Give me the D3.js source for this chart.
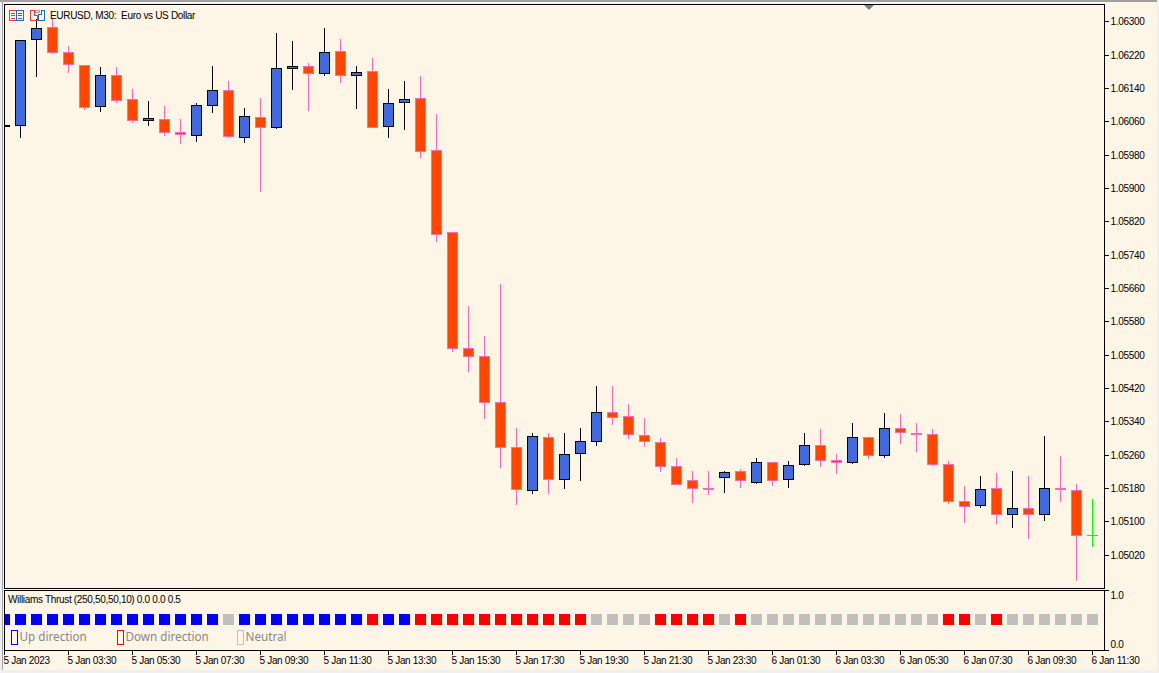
<!DOCTYPE html>
<html>
<head>
<meta charset="utf-8">
<title>EURUSD M30</title>
<script src="https://cdn.jsdelivr.net/npm/d3@7"></script>
<style>
html, body { margin: 0; padding: 0; background: #fdf5e6; overflow: hidden; }
svg { display: block; }
text { font-family: "Liberation Sans", sans-serif; font-size: 10px; letter-spacing: -0.32px; fill: #000; }
.legend { font-family: "Noto Sans", sans-serif; font-size: 11.7px; letter-spacing: 0; fill: #888; }
</style>
</head>
<body>
<svg id="chart" width="1159" height="673"></svg>
<script>
var opens = [1.06050,1.06053,1.06258,1.06287,1.06227,1.06195,1.06098,1.06171,1.06114,1.06065,1.06066,1.06035,1.06029,1.06101,1.06135,1.06024,1.06071,1.06048,1.06189,1.06193,1.06177,1.06229,1.06173,1.06181,1.06050,1.06108,1.06116,1.05991,1.05795,1.05516,1.05497,1.05387,1.05279,1.05177,1.05303,1.05203,1.05265,1.05294,1.05363,1.05353,1.05307,1.05291,1.05233,1.05199,1.05180,1.05208,1.05221,1.05196,1.05243,1.05203,1.05239,1.05283,1.05247,1.05244,1.05303,1.05261,1.05324,1.05312,1.05310,1.05238,1.05149,1.05141,1.05180,1.05119,1.05132,1.05119,1.05180,1.05175,1.05067];
var highs = [1.06052,1.06255,1.06305,1.06307,1.06240,1.06195,1.06191,1.06191,1.06137,1.06110,1.06098,1.06065,1.06104,1.06194,1.06156,1.06092,1.06117,1.06273,1.06252,1.06201,1.06285,1.06257,1.06194,1.06213,1.06137,1.06158,1.06168,1.06077,1.05795,1.05616,1.05544,1.05669,1.05325,1.05311,1.05313,1.05313,1.05325,1.05426,1.05424,1.05381,1.05349,1.05301,1.05251,1.05222,1.05220,1.05220,1.05225,1.05253,1.05243,1.05244,1.05311,1.05321,1.05261,1.05335,1.05303,1.05359,1.05357,1.05337,1.05321,1.05246,1.05184,1.05210,1.05217,1.05220,1.05210,1.05304,1.05258,1.05189,1.05153];
var lows = [1.06050,1.06023,1.06169,1.06224,1.06179,1.06090,1.06085,1.06107,1.06059,1.06051,1.06027,1.06008,1.06013,1.06083,1.06023,1.06011,1.05893,1.06045,1.06137,1.06087,1.06171,1.06155,1.06093,1.06047,1.06023,1.06042,1.05975,1.05774,1.05508,1.05460,1.05348,1.05231,1.05142,1.05168,1.05168,1.05180,1.05199,1.05283,1.05334,1.05300,1.05281,1.05221,1.05190,1.05147,1.05166,1.05171,1.05183,1.05192,1.05187,1.05183,1.05235,1.05233,1.05216,1.05240,1.05252,1.05255,1.05288,1.05269,1.05235,1.05144,1.05099,1.05135,1.05096,1.05087,1.05060,1.05103,1.05149,1.04959,1.05041];
var closes = [1.06052,1.06255,1.06284,1.06228,1.06199,1.06096,1.06171,1.06113,1.06065,1.06068,1.06036,1.06031,1.06099,1.06135,1.06026,1.06073,1.06048,1.06188,1.06193,1.06177,1.06227,1.06173,1.06179,1.06048,1.06104,1.06114,1.05990,1.05791,1.05517,1.05498,1.05388,1.05279,1.05179,1.05305,1.05203,1.05262,1.05293,1.05363,1.05352,1.05311,1.05294,1.05234,1.05191,1.05181,1.05179,1.05219,1.05201,1.05243,1.05201,1.05235,1.05283,1.05249,1.05244,1.05303,1.05261,1.05324,1.05316,1.05311,1.05239,1.05150,1.05138,1.05178,1.05119,1.05132,1.05119,1.05180,1.05179,1.05069,1.05067];
// 1 up, -1 down, 0 neutral
var thrustDirection = [1,1,1,1,1,1,1,1,1,1,1,1,1,1,0,1,1,1,1,1,1,1,1,-1,1,1,-1,-1,-1,-1,-1,-1,-1,-1,-1,-1,-1,0,0,0,0,-1,-1,-1,-1,0,-1,0,0,0,0,0,0,0,0,0,0,0,0,-1,-1,0,-1,0,0,0,0,0,0];
var priceTicks = [1.06300,1.06220,1.06140,1.06060,1.05980,1.05900,1.05820,1.05740,1.05660,1.05580,1.05500,1.05420,1.05340,1.05260,1.05180,1.05100,1.05020];
var timeLabels = ["5 Jan 2023","5 Jan 03:30","5 Jan 05:30","5 Jan 07:30","5 Jan 09:30","5 Jan 11:30","5 Jan 13:30","5 Jan 15:30","5 Jan 17:30","5 Jan 19:30","5 Jan 21:30","5 Jan 23:30","6 Jan 01:30","6 Jan 03:30","6 Jan 05:30","6 Jan 07:30","6 Jan 09:30","6 Jan 11:30"];
var timeTickBars = [0,4,8,12,16,20,24,28,32,36,40,44,48,52,56,60,64,68];
var legendNames = ["Up direction","Down direction","Neutral"];

var svg = d3.select("#chart");
var frameLeft = 4.5, frameRight = 1104.5;

var x = d3.scaleLinear().domain([0, 68]).range([4.5, 1092.5]);
var y = d3.scaleLinear().domain([1.063, 1.0502]).range([21.9, 555.23]);
var ySub = d3.scaleLinear().domain([0, 1]).range([649.5, 589.5]);

// window edges
svg.append("rect").attr("width", 1159).attr("height", 2).attr("fill", "#a0a0a0");
svg.append("rect").attr("y", 2).attr("width", 2).attr("height", 668).attr("fill", "#f0f0f0");
svg.append("rect").attr("x", 2).attr("y", 2).attr("width", 1).attr("height", 668).attr("fill", "#a0a0a0");
svg.append("rect").attr("y", 670).attr("width", 1159).attr("height", 3).attr("fill", "#f0f0f0");
svg.append("rect").attr("x", 1157).attr("width", 2).attr("height", 673).attr("fill", "#f0f0f0");

var defs = svg.append("defs");
defs.append("clipPath").attr("id", "mainClip").append("rect")
	.attr("x", 5).attr("y", 5).attr("width", 1099).attr("height", 583);
defs.append("clipPath").attr("id", "subClip").append("rect")
	.attr("x", 5).attr("y", 591).attr("width", 1099).attr("height", 59);

// candles
var bars = d3.range(opens.length);
var candles = svg.append("g").attr("clip-path", "url(#mainClip)").attr("shape-rendering", "crispEdges");

function candleColor(i) {
	if (opens[i] == closes[i]) return "#00ff00";
	return closes[i] > opens[i] ? "#000000" : "#ff69b4";
}
function bodyTop(i) { return Math.floor(y(Math.max(opens[i], closes[i]))) + 0.5; }
function bodyBottom(i) {
	var b = Math.round(y(Math.min(opens[i], closes[i]))) + 0.5;
	return b <= bodyTop(i) ? bodyTop(i) + 1 : b;
}

candles.selectAll("line.wick").data(bars).enter().append("line")
	.attr("class", "wick")
	.attr("x1", function (i) { return x(i); }).attr("x2", function (i) { return x(i); })
	.attr("y1", function (i) { return Math.floor(y(highs[i])); })
	.attr("y2", function (i) { return Math.floor(y(lows[i])) + 1; })
	.attr("stroke", candleColor).attr("stroke-width", 1);

candles.selectAll("rect.body").data(bars.filter(function (i) { return opens[i] != closes[i]; })).enter().append("rect")
	.attr("class", "body")
	.attr("x", function (i) { return x(i) - 5; })
	.attr("width", 10)
	.attr("y", bodyTop)
	.attr("height", function (i) { return bodyBottom(i) - bodyTop(i); })
	.attr("fill", function (i) { return closes[i] > opens[i] ? "#4169e1" : "#ff4500"; })
	.attr("stroke", candleColor).attr("stroke-width", 1);

// a bar with no body is only a tick
candles.selectAll("line.doji").data(bars.filter(function (i) { return opens[i] == closes[i]; })).enter().append("line")
	.attr("class", "doji")
	.attr("x1", function (i) { return x(i) - 5.5; }).attr("x2", function (i) { return x(i) + 5.5; })
	.attr("y1", bodyTop).attr("y2", bodyTop)
	.attr("stroke", candleColor).attr("stroke-width", 1);

// thrust squares
var thrustColor = d3.scaleOrdinal().domain([1, -1, 0]).range(["#0000ff", "#ff0000", "#c0c0c0"]);
svg.append("g").attr("clip-path", "url(#subClip)").attr("shape-rendering", "crispEdges")
	.selectAll("rect").data(thrustDirection).enter().append("rect")
	.attr("x", function (d, i) { return x(i) - 5.5; })
	.attr("y", ySub(0.5) - 5.5)
	.attr("width", 11).attr("height", 11)
	.attr("fill", function (d) { return thrustColor(d); });

// frames
var frames = svg.append("g").attr("fill", "none").attr("stroke", "#000").attr("shape-rendering", "crispEdges");
frames.append("rect").attr("x", frameLeft).attr("y", 4.5).attr("width", frameRight - frameLeft).attr("height", 584);
frames.append("rect").attr("x", frameLeft).attr("y", 590.5).attr("width", frameRight - frameLeft).attr("height", 60);

// price axis
var priceAxis = d3.axisRight(y).tickValues(priceTicks).tickFormat(d3.format(".5f")).tickSize(4).tickPadding(2).offset(0);
var priceG = svg.append("g").attr("transform", "translate(" + frameRight + ",0)").call(priceAxis);
priceG.select(".domain").remove();
priceG.selectAll(".tick").attr("transform", function (d) { return "translate(0," + (Math.floor(y(d)) + 0.5) + ")"; });
priceG.selectAll("text").attr("dy", "0.38em");
priceG.selectAll("line").attr("shape-rendering", "crispEdges");
priceG.attr("font-family", null).attr("font-size", null);

// sub window axis
var subAxis = d3.axisRight(ySub).tickValues([0, 1]).tickFormat(d3.format(".1f")).tickSize(4).tickPadding(2).offset(0);
var subG = svg.append("g").attr("transform", "translate(" + frameRight + ",1)").call(subAxis);
subG.select(".domain").remove();
subG.attr("font-family", null).attr("font-size", null);
subG.selectAll("line").attr("shape-rendering", "crispEdges");
subG.selectAll("text").attr("y", function (d) { return d == 1 ? 5 : -6; });

// time axis
var timeAxis = d3.axisBottom(x).tickValues(timeTickBars)
	.tickFormat(function (d, i) { return timeLabels[i]; }).tickSize(4).tickPadding(2).offset(0);
var timeG = svg.append("g").attr("transform", "translate(0,650.5)").call(timeAxis);
timeG.select(".domain").remove();
timeG.attr("font-family", null).attr("font-size", null);
timeG.selectAll("line").attr("shape-rendering", "crispEdges");
timeG.selectAll("text").attr("text-anchor", "start").attr("x", -1);

// header
svg.append("text").attr("x", 50).attr("y", 19).text("EURUSD, M30:  Euro vs US Dollar").style("white-space", "pre");
svg.append("text").attr("x", 8).attr("y", 603).text("Williams Thrust (250,50,50,10) 0.0 0.0 0.5");

// the two header icons
var icons = svg.append("g").attr("fill", "none").attr("shape-rendering", "crispEdges");
icons.append("rect").attr("x", 9.5).attr("y", 10.5).attr("width", 7).attr("height", 10).attr("stroke", "#e04040");
icons.append("rect").attr("x", 16.5).attr("y", 10.5).attr("width", 7).attr("height", 10).attr("stroke", "#1a6fb0");
[13, 15.5, 18].forEach(function (ly) {
	icons.append("line").attr("x1", 11).attr("x2", 15).attr("y1", ly).attr("y2", ly).attr("stroke", "#e04040");
	icons.append("line").attr("x1", 18).attr("x2", 22).attr("y1", ly).attr("y2", ly).attr("stroke", "#1a6fb0");
});
icons.append("path").attr("d", "M30.5 10.5H34.5V15.5H37.5V20.5H30.5Z").attr("stroke", "#e04040");
icons.append("path").attr("d", "M38.5 14.5H41.5V10.5H44.5V20.5H38.5Z").attr("stroke", "#1a6fb0");
icons.append("rect").attr("x", 35.5).attr("y", 10.5).attr("width", 4).attr("height", 2).attr("stroke", "#a0a0a0");

// marker at the top of the chart
svg.append("path").attr("d", "M864 5H874L869 10Z").attr("fill", "#708090");

// legend inside the sub window
var legendColors = ["#0000ff", "#ff0000", "#c0c0c0"];
var legendX = [11.5, 117.5, 237.5];
var legend = svg.append("g").selectAll("g").data(legendNames).enter().append("g");
legend.append("rect")
	.attr("x", function (d, i) { return legendX[i]; }).attr("y", 630.5)
	.attr("width", 6).attr("height", 14)
	.attr("fill", "none").attr("stroke", function (d, i) { return legendColors[i]; })
	.attr("shape-rendering", "crispEdges");
legend.append("text").attr("class", "legend")
	.attr("x", function (d, i) { return legendX[i] + 8; }).attr("y", 641)
	.text(function (d) { return d; });
</script>
</body>
</html>
